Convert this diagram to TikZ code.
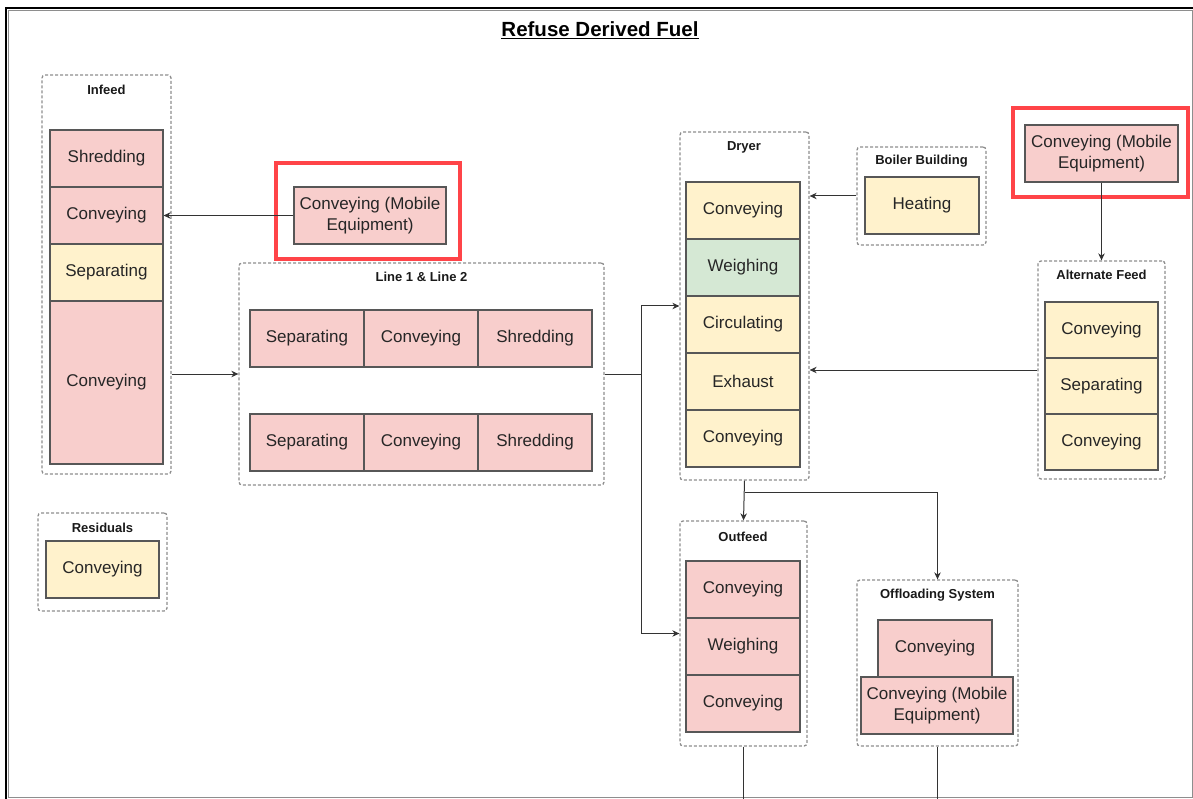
\documentclass[tikz,border=0pt]{standalone}
\usepackage{fontspec}
\setmainfont{Liberation Sans}
\usetikzlibrary{arrows.meta}

\definecolor{pinkfill}{HTML}{F8CECC}
\definecolor{yellowfill}{HTML}{FFF2CC}
\definecolor{greenfill}{HTML}{D5E8D4}
\definecolor{boxline}{HTML}{575757}
\definecolor{arealine}{HTML}{8E8E8E}
\definecolor{highlight}{HTML}{FF4448}
\definecolor{wire}{HTML}{333333}

\begin{document}
\begin{tikzpicture}[x=1pt,y=-1pt,>={Stealth[length=7pt,width=6.5pt]}]
 \tikzstyle{proc} = [draw=boxline,line width=1.2pt,minimum height=57pt,inner sep=0pt,align=center,text=black!85,font=\fontsize{17}{20.5}\selectfont]
 \tikzstyle{pinkproc} = [proc,fill=pinkfill]
 \tikzstyle{yellowproc} = [proc,fill=yellowfill]
 \tikzstyle{greenproc} = [proc,fill=greenfill]
 \tikzstyle{plantarea} = [draw=arealine,line width=1.3pt,dash pattern=on 3pt off 2pt,rounded corners=3pt,inner sep=0pt]
 \tikzstyle{arealabel} = [font=\fontsize{13}{15}\selectfont\bfseries,text=black!90]
 \tikzstyle{hlbox} = [draw=highlight,line width=3.5pt,inner sep=0pt]
 \tikzstyle{wireline} = [draw=wire,line width=1pt]
 \newcommand{\bw}{113pt}

 \useasboundingbox (0,0) rectangle (1193,799);

% Frame
 \draw[arealine,line width=1pt] (8,11) rectangle (1192,797);
 \draw[black,line width=2.5pt] (6,799) -- (6,8) -- (1193,8);

 \node[font=\fontsize{20.5}{24}\selectfont\bfseries] (title) at (600,30.5) {\underline{Refuse Derived Fuel}};

% Infeed
 \node[plantarea,minimum width=129pt,minimum height=399pt] (infeed) at (106.5,274.5) {};
 \node[arealabel] (infeedlbl) at (106.5,90) {Infeed};
 \node[pinkproc,minimum width=\bw] (inShred) at (106.5,158.5) {Shredding};
 \node[pinkproc,minimum width=\bw] (inConv) at (106.5,215.5) {Conveying};
 \node[yellowproc,minimum width=\bw] (inSep) at (106.5,272.5) {Separating};
 \node[pinkproc,minimum width=\bw,minimum height=163pt] (inConvB) at (106.5,382.5) {Conveying};

% Mobile equipment (left)
 \node[hlbox,minimum width=184pt,minimum height=96pt] (hlA) at (368,211) {};
 \node[pinkproc,minimum width=152pt] (mobA) at (370,215.5) {Conveying (Mobile\\Equipment)};

% Residuals
 \node[plantarea,minimum width=129pt,minimum height=98pt] (resid) at (102.5,562) {};
 \node[arealabel] (residlbl) at (102.5,528) {Residuals};
 \node[yellowproc,minimum width=\bw] (resConv) at (102.5,569.5) {Conveying};

% Line 1 & Line 2
 \node[plantarea,minimum width=365pt,minimum height=222pt] (lines) at (421.5,374) {};
 \node[arealabel] (lineslbl) at (421.5,277) {Line 1 \& Line 2};
 \node[pinkproc,minimum width=114pt] (aSep) at (307,338.5) {Separating};
 \node[pinkproc,minimum width=114pt] (aConv) at (421,338.5) {Conveying};
 \node[pinkproc,minimum width=114pt] (aShred) at (535,338.5) {Shredding};
 \node[pinkproc,minimum width=114pt] (bSep) at (307,442.5) {Separating};
 \node[pinkproc,minimum width=114pt] (bConv) at (421,442.5) {Conveying};
 \node[pinkproc,minimum width=114pt] (bShred) at (535,442.5) {Shredding};

% Dryer
 \node[plantarea,minimum width=129pt,minimum height=348pt] (dryer) at (744.5,306) {};
 \node[arealabel] (dryerlbl) at (744,147) {Dryer};
 \node[yellowproc,minimum width=114pt] (dConvA) at (743,210.5) {Conveying};
 \node[greenproc,minimum width=114pt] (dWeigh) at (743,267.5) {Weighing};
 \node[yellowproc,minimum width=114pt] (dCirc) at (743,324.5) {Circulating};
 \node[yellowproc,minimum width=114pt] (dExh) at (743,381.5) {Exhaust};
 \node[yellowproc,minimum width=114pt] (dConvB) at (743,438.5) {Conveying};

% Boiler Building
 \node[plantarea,minimum width=129pt,minimum height=98pt] (boiler) at (921.5,196) {};
 \node[arealabel] (boilerlbl) at (921.5,161) {Boiler Building};
 \node[yellowproc,minimum width=114pt] (heat) at (922,205.5) {Heating};

% Mobile equipment (right)
 \node[hlbox,minimum width=175pt,minimum height=89pt] (hlB) at (1100.5,152.5) {};
 \node[pinkproc,minimum width=153pt] (mobB) at (1101.5,153.5) {Conveying (Mobile\\Equipment)};

% Alternate Feed
 \node[plantarea,minimum width=127pt,minimum height=218pt] (alt) at (1101.5,370) {};
 \node[arealabel] (altlbl) at (1101.5,275) {Alternate Feed};
 \node[yellowproc,minimum width=\bw,minimum height=56pt] (altConvA) at (1101.5,330) {Conveying};
 \node[yellowproc,minimum width=\bw,minimum height=56pt] (altSep) at (1101.5,386) {Separating};
 \node[yellowproc,minimum width=\bw,minimum height=56pt] (altConvB) at (1101.5,442) {Conveying};

% Outfeed
 \node[plantarea,minimum width=127pt,minimum height=225pt] (outfeed) at (743.5,633.5) {};
 \node[arealabel] (outfeedlbl) at (743,537) {Outfeed};
 \node[pinkproc,minimum width=114pt] (oConvA) at (743,589.5) {Conveying};
 \node[pinkproc,minimum width=114pt] (oWeigh) at (743,646.5) {Weighing};
 \node[pinkproc,minimum width=114pt] (oConvB) at (743,703.5) {Conveying};

% Offloading System
 \node[plantarea,minimum width=161pt,minimum height=166pt] (offload) at (937.5,663) {};
 \node[arealabel] (offloadlbl) at (937.5,595) {Offloading System};
 \node[pinkproc,minimum width=114pt] (offConv) at (935,648.5) {Conveying};
 \node[pinkproc,minimum width=152pt] (offMob) at (937,705.5) {Conveying (Mobile\\Equipment)};

% Connectors
 \coordinate (split) at (641,374);
 \coordinate (branch) at (744.5,492);
 \coordinate (outEnd) at (743.5,799);
 \coordinate (offEnd) at (937.5,799);

 \draw[wireline,->] (mobA.west) -- (inConv.east);
 \draw[wireline,->] (infeed.east |- lines.west) -- (lines.west);
 \draw[wireline] (lines.east) -- (split);
 \draw[wireline,->] (split) |- (dryer.west);
 \draw[wireline,->] (split) |- (outfeed.west);
 \draw[wireline,->] (boiler.west) -- (dryer.east |- boiler.west);
 \draw[wireline,->] (mobB.south) -- (alt.north);
 \draw[wireline,->] (alt.west) -- (dryer.east |- alt.west);
 \draw[wireline,->] (dryer.south) -- (outfeed.north);
 \draw[wireline,->] (branch) -| (offload.north);
 \draw[wireline] (outfeed.south) -- (outEnd);
 \draw[wireline] (offload.south) -- (offEnd);

\end{tikzpicture}
\end{document}
